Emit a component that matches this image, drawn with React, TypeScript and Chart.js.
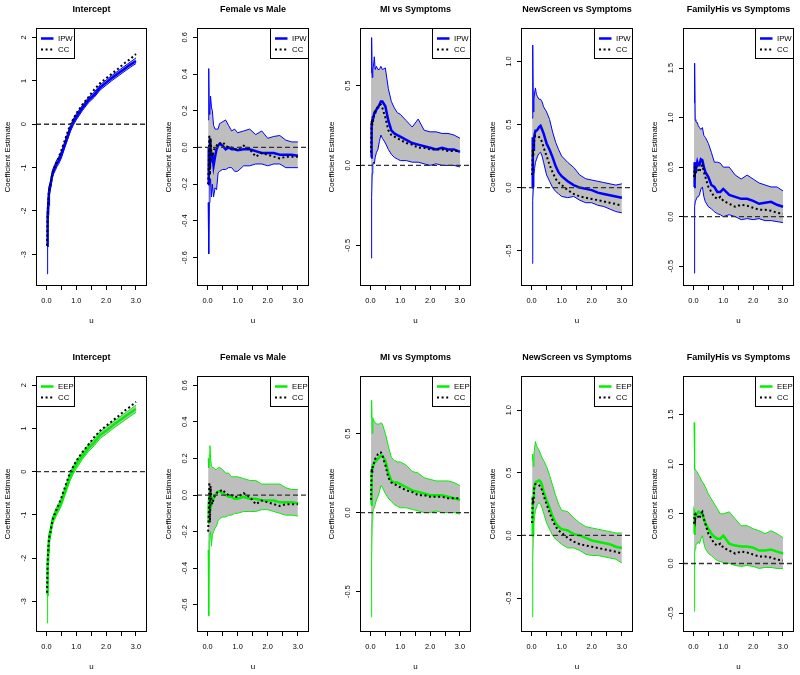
import React, { useEffect, useRef } from "react";
import { Chart, registerables } from "chart.js";
Chart.register(...registerables);

// ---------- data ----------
const U = [0.02, 0.04, 0.06, 0.08, 0.1, 0.13, 0.16, 0.2, 0.25, 0.3, 0.35, 0.4, 0.5, 0.6, 0.7, 0.8, 0.9, 1.0, 1.2, 1.4, 1.6, 1.8, 2.0, 2.2, 2.4, 2.6, 2.8, 3.0];

const TITLES = ["Intercept", "Female vs Male", "MI vs Symptoms", "NewScreen vs Symptoms", "FamilyHis vs Symptoms"];
const METHODS = ["IPW", "EEP"];

// Complete case (same in both rows)
const CC_INT = [-2.8, -2.1, -1.8, -1.6, -1.5, -1.4, -1.28, -1.12, -1.02, -0.95, -0.85, -0.78, -0.6, -0.4, -0.2, 0.0, 0.12, 0.25, 0.45, 0.62, 0.8, 0.95, 1.06, 1.17, 1.28, 1.4, 1.5, 1.62];
const CC_FEM = [-0.2, -0.1, 0.07, -0.15, 0.05, -0.03, -0.05, -0.02, 0.0, 0.01, 0.02, 0.02, 0.03, 0.01, 0.0, 0.0, -0.01, -0.01, 0.01, -0.01, -0.05, -0.03, -0.04, -0.05, -0.06, -0.05, -0.05, -0.05];
const CC_MI = [0.08, 0.28, 0.25, 0.3, 0.3, 0.32, 0.34, 0.35, 0.37, 0.38, 0.38, 0.36, 0.3, 0.22, 0.19, 0.18, 0.17, 0.16, 0.14, 0.13, 0.11, 0.11, 0.1, 0.1, 0.1, 0.09, 0.09, 0.09];
const CC_NS = [0.1, 0.3, 0.25, 0.35, 0.4, 0.41, 0.41, 0.41, 0.4, 0.39, 0.36, 0.32, 0.25, 0.18, 0.12, 0.07, 0.04, 0.02, -0.02, -0.05, -0.07, -0.08, -0.09, -0.1, -0.11, -0.12, -0.13, -0.145];
const CC_FH = [0.4, 0.5, 0.45, 0.5, 0.5, 0.48, 0.47, 0.45, 0.5, 0.52, 0.45, 0.4, 0.3, 0.25, 0.2, 0.18, 0.2, 0.16, 0.13, 0.1, 0.12, 0.11, 0.09, 0.07, 0.07, 0.06, 0.04, 0.03];

// IPW row
const IPW_INT_EST = [-2.8, -2.1, -1.85, -1.6, -1.5, -1.42, -1.3, -1.15, -1.05, -0.98, -0.9, -0.85, -0.7, -0.5, -0.3, -0.1, 0.05, 0.17, 0.37, 0.55, 0.68, 0.85, 0.96, 1.07, 1.17, 1.27, 1.37, 1.46];
const IPW_INT_HI = [-2.3, -1.8, -1.65, -1.45, -1.4, -1.33, -1.22, -1.07, -0.97, -0.9, -0.82, -0.77, -0.62, -0.43, -0.23, -0.03, 0.12, 0.24, 0.43, 0.61, 0.74, 0.91, 1.02, 1.13, 1.23, 1.33, 1.43, 1.53];
const IPW_INT_LO = [-3.45, -2.45, -2.1, -1.8, -1.65, -1.52, -1.4, -1.23, -1.13, -1.06, -0.98, -0.93, -0.78, -0.57, -0.37, -0.17, -0.02, 0.1, 0.31, 0.49, 0.62, 0.79, 0.9, 1.01, 1.11, 1.21, 1.31, 1.4];

const IPW_FEM_EST = [-0.2, 0.0, -0.1, 0.05, 0.0, -0.08, -0.03, -0.1, -0.05, -0.01, 0.01, 0.02, 0.01, -0.01, 0.0, -0.01, -0.01, -0.015, -0.01, -0.01, -0.02, -0.03, -0.03, -0.03, -0.04, -0.04, -0.04, -0.045];
const IPW_FEM_HI = [0.15, 0.43, 0.18, 0.2, 0.28, 0.22, 0.2, 0.12, 0.1, 0.1, 0.1, 0.13, 0.14, 0.15, 0.12, 0.09, 0.1, 0.08, 0.09, 0.1, 0.07, 0.09, 0.05, 0.06, 0.065, 0.04, 0.03, 0.03];
const IPW_FEM_LO = [-0.3, -0.58, -0.3, -0.2, -0.17, -0.27, -0.2, -0.27, -0.22, -0.23, -0.14, -0.13, -0.12, -0.12, -0.11, -0.11, -0.13, -0.13, -0.1, -0.1, -0.09, -0.09, -0.1, -0.09, -0.09, -0.11, -0.11, -0.11];

const IPW_MI_EST = [0.05, 0.25, 0.28, 0.3, 0.3, 0.33, 0.33, 0.35, 0.36, 0.38, 0.4, 0.4, 0.37, 0.28, 0.22, 0.2, 0.19, 0.18, 0.16, 0.14, 0.13, 0.12, 0.11, 0.1, 0.11, 0.1, 0.1, 0.085];
const IPW_MI_HI = [0.58, 0.8, 0.55, 0.6, 0.62, 0.68, 0.6, 0.62, 0.6, 0.6, 0.62, 0.6, 0.61, 0.48, 0.4, 0.36, 0.33, 0.32, 0.28, 0.24, 0.29, 0.22, 0.21, 0.21, 0.2, 0.2, 0.19, 0.17];
const IPW_MI_LO = [-0.58, -0.2, -0.05, 0.0, 0.02, 0.01, 0.05, 0.08, 0.1, 0.15, 0.19, 0.17, 0.14, 0.1, 0.07, 0.05, 0.04, 0.03, 0.03, 0.02, 0.02, 0.01, 0.0, 0.01, 0.0, 0.0, 0.0, -0.01];

const IPW_NS_EST = [0.0, 0.4, 0.3, 0.38, 0.42, 0.45, 0.45, 0.46, 0.48, 0.49, 0.46, 0.43, 0.35, 0.3, 0.24, 0.17, 0.12, 0.09, 0.05, 0.02, 0.0, -0.01, -0.02, -0.04, -0.05, -0.06, -0.07, -0.08];
const IPW_NS_HI = [0.55, 1.13, 0.6, 0.7, 0.75, 0.79, 0.74, 0.72, 0.7, 0.7, 0.68, 0.64, 0.6, 0.54, 0.44, 0.36, 0.3, 0.25, 0.2, 0.16, 0.1, 0.07, 0.06, 0.05, 0.04, 0.03, 0.02, 0.03];
const IPW_NS_LO = [-0.6, -0.1, 0.0, 0.1, 0.15, 0.2, 0.22, 0.25, 0.27, 0.28, 0.25, 0.2, 0.1, 0.05, 0.0, -0.03, -0.05, -0.07, -0.08, -0.07, -0.1, -0.12, -0.12, -0.14, -0.15, -0.17, -0.19, -0.2];

const IPW_FH_EST = [0.3, 0.55, 0.45, 0.5, 0.5, 0.55, 0.52, 0.52, 0.58, 0.57, 0.5, 0.45, 0.4, 0.32, 0.3, 0.25, 0.25, 0.28, 0.22, 0.2, 0.18, 0.18, 0.16, 0.13, 0.14, 0.15, 0.12, 0.1];
const IPW_FH_HI = [1.15, 1.55, 0.98, 0.97, 0.95, 0.95, 0.92, 0.9, 0.88, 0.9, 0.82, 0.8, 0.74, 0.65, 0.55, 0.55, 0.54, 0.5, 0.5, 0.42, 0.38, 0.42, 0.38, 0.34, 0.32, 0.3, 0.3, 0.26];
const IPW_FH_LO = [-0.57, 0.1, 0.15, 0.15, 0.18, 0.2, 0.2, 0.22, 0.28, 0.3, 0.2, 0.15, 0.1, 0.08, 0.05, 0.03, 0.02, 0.0, 0.02, 0.0, -0.03, -0.02, -0.03, -0.02, -0.04, -0.04, -0.05, -0.06];

// EEP row
const EEP_INT_EST = [-2.85, -2.15, -1.85, -1.6, -1.5, -1.42, -1.3, -1.15, -1.05, -0.98, -0.9, -0.84, -0.7, -0.5, -0.3, -0.1, 0.04, 0.16, 0.36, 0.54, 0.68, 0.85, 0.95, 1.06, 1.16, 1.26, 1.36, 1.45];
const EEP_INT_HI = [-2.4, -1.85, -1.65, -1.45, -1.38, -1.32, -1.21, -1.06, -0.96, -0.89, -0.81, -0.75, -0.61, -0.41, -0.21, -0.01, 0.13, 0.25, 0.44, 0.62, 0.76, 0.93, 1.03, 1.14, 1.24, 1.34, 1.44, 1.54];
const EEP_INT_LO = [-3.5, -2.5, -2.1, -1.8, -1.65, -1.53, -1.4, -1.24, -1.14, -1.07, -0.99, -0.93, -0.79, -0.59, -0.39, -0.19, -0.05, 0.07, 0.28, 0.46, 0.6, 0.77, 0.87, 0.98, 1.08, 1.18, 1.28, 1.37];

const EEP_FEM_EST = [-0.15, -0.05, 0.0, -0.08, 0.02, -0.05, -0.03, -0.02, 0.0, 0.01, 0.02, 0.02, 0.01, 0.0, -0.01, -0.01, -0.02, -0.02, -0.01, -0.02, -0.02, -0.03, -0.03, -0.03, -0.04, -0.04, -0.04, -0.045];
const EEP_FEM_HI = [0.2, 0.15, 0.22, 0.27, 0.2, 0.16, 0.15, 0.15, 0.14, 0.14, 0.15, 0.15, 0.14, 0.12, 0.12, 0.1, 0.1, 0.1, 0.09, 0.08, 0.08, 0.06, 0.06, 0.06, 0.06, 0.04, 0.03, 0.03];
const EEP_FEM_LO = [-0.3, -0.66, -0.25, -0.22, -0.2, -0.28, -0.22, -0.2, -0.18, -0.17, -0.14, -0.13, -0.12, -0.12, -0.11, -0.11, -0.1, -0.1, -0.09, -0.09, -0.09, -0.08, -0.08, -0.09, -0.1, -0.11, -0.11, -0.115];

const EEP_MI_EST = [0.05, 0.25, 0.28, 0.3, 0.3, 0.32, 0.32, 0.33, 0.34, 0.35, 0.36, 0.36, 0.33, 0.25, 0.2, 0.19, 0.19, 0.18, 0.16, 0.14, 0.13, 0.12, 0.11, 0.11, 0.11, 0.1, 0.09, 0.08];
const EEP_MI_HI = [0.6, 0.71, 0.5, 0.6, 0.58, 0.58, 0.57, 0.56, 0.56, 0.56, 0.57, 0.56, 0.5, 0.42, 0.35, 0.33, 0.32, 0.32, 0.3, 0.26, 0.25, 0.22, 0.21, 0.2, 0.2, 0.2, 0.19, 0.17];
const EEP_MI_LO = [-0.66, -0.3, -0.05, 0.0, 0.02, 0.03, 0.05, 0.08, 0.1, 0.13, 0.17, 0.16, 0.12, 0.09, 0.07, 0.05, 0.04, 0.03, 0.03, 0.02, 0.01, 0.0, 0.0, 0.01, 0.0, 0.0, 0.0, -0.01];

const EEP_NS_EST = [0.0, 0.3, 0.3, 0.38, 0.4, 0.42, 0.43, 0.43, 0.44, 0.43, 0.4, 0.35, 0.28, 0.22, 0.15, 0.1, 0.07, 0.05, 0.04, 0.01, 0.0, -0.02, -0.04, -0.05, -0.06, -0.07, -0.09, -0.1];
const EEP_NS_HI = [0.6, 0.65, 0.55, 0.65, 0.7, 0.75, 0.72, 0.7, 0.68, 0.65, 0.62, 0.6, 0.55, 0.48, 0.4, 0.32, 0.25, 0.2, 0.19, 0.14, 0.1, 0.07, 0.06, 0.05, 0.04, 0.03, 0.02, 0.02];
const EEP_NS_LO = [-0.65, -0.2, 0.0, 0.1, 0.15, 0.2, 0.22, 0.25, 0.26, 0.25, 0.22, 0.18, 0.1, 0.05, 0.0, -0.03, -0.05, -0.07, -0.1, -0.1, -0.12, -0.15, -0.16, -0.16, -0.17, -0.18, -0.19, -0.22];

const EEP_FH_EST = [0.3, 0.5, 0.48, 0.5, 0.5, 0.5, 0.52, 0.52, 0.5, 0.5, 0.45, 0.4, 0.35, 0.3, 0.27, 0.25, 0.25, 0.28, 0.2, 0.18, 0.17, 0.17, 0.16, 0.13, 0.13, 0.14, 0.12, 0.1];
const EEP_FH_HI = [1.42, 0.95, 0.95, 0.95, 0.93, 0.92, 0.9, 0.88, 0.85, 0.82, 0.8, 0.77, 0.7, 0.65, 0.6, 0.55, 0.5, 0.5, 0.52, 0.45, 0.38, 0.38, 0.35, 0.33, 0.3, 0.33, 0.3, 0.26];
const EEP_FH_LO = [-0.48, 0.1, 0.15, 0.18, 0.2, 0.2, 0.22, 0.2, 0.25, 0.28, 0.2, 0.15, 0.1, 0.08, 0.05, 0.03, 0.02, 0.01, 0.0, -0.02, -0.03, -0.02, -0.03, -0.05, -0.04, -0.04, -0.05, -0.05];

// axes
const X_MIN = -0.35;
const X_MAX = 3.37;
const X_TICKS = [0, 0.5, 1, 1.5, 2, 2.5, 3];
const X_TICK_LABELS = ["0.0", "", "1.0", "", "2.0", "", "3.0"];

const Y_TICKS = [
  [-3, -2, -1, 0, 1, 2],
  [-0.6, -0.4, -0.2, 0, 0.2, 0.4, 0.6],
  [-0.5, 0, 0.5],
  [-0.5, 0, 0.5, 1.0],
  [-0.5, 0, 0.5, 1.0, 1.5],
];
const Y_TICK_LABELS = [
  ["-3", "-2", "-1", "0", "1", "2"],
  ["-0.6", "-0.4", "-0.2", "0.0", "0.2", "0.4", "0.6"],
  ["-0.5", "0.0", "0.5"],
  ["-0.5", "0.0", "0.5", "1.0"],
  ["-0.5", "0.0", "0.5", "1.0", "1.5"],
];
const Y_RANGE_IPW = [[-3.73, 2.22], [-0.755, 0.651], [-0.755, 0.86], [-0.78, 1.265], [-0.70, 1.905]];
const Y_RANGE_EEP = [[-3.71, 2.215], [-0.749, 0.651], [-0.756, 0.864], [-0.771, 1.273], [-0.69, 1.888]];

const ROWS = [
  { est: [IPW_INT_EST, IPW_FEM_EST, IPW_MI_EST, IPW_NS_EST, IPW_FH_EST], hi: [IPW_INT_HI, IPW_FEM_HI, IPW_MI_HI, IPW_NS_HI, IPW_FH_HI], lo: [IPW_INT_LO, IPW_FEM_LO, IPW_MI_LO, IPW_NS_LO, IPW_FH_LO], range: Y_RANGE_IPW },
  { est: [EEP_INT_EST, EEP_FEM_EST, EEP_MI_EST, EEP_NS_EST, EEP_FH_EST], hi: [EEP_INT_HI, EEP_FEM_HI, EEP_MI_HI, EEP_NS_HI, EEP_FH_HI], lo: [EEP_INT_LO, EEP_FEM_LO, EEP_MI_LO, EEP_NS_LO, EEP_FH_LO], range: Y_RANGE_EEP },
];
const CC_SERIES = [CC_INT, CC_FEM, CC_MI, CC_NS, CC_FH];

// ---------- layout / style ----------
const FONT = "'Liberation Sans', Arial, Helvetica, sans-serif";
const ROW_COLORS = ["#0000FF", "#00F000"];
const BAND_FILL = "#BEBEBE";
const CELL_W = 160;
const CELL_Y = [0, 330];
const CELL_H = [330, 345];
const PLOT_LEFT = [36, 197, 360, 521, 683];
const PLOT_RIGHT = [147, 309, 471, 633, 794];
const PLOT_TOP = [28, 376];
const PLOT_BOTTOM = [286, 632];

function pts(ys: number[]) {
  return U.map((x, i) => ({ x, y: ys[i] }));
}

function makeDecor(row: number, col: number) {
  const color = ROW_COLORS[row];
  const method = METHODS[row];
  return {
    id: "rdecor",
    afterDraw(chart: any) {
      const { ctx, chartArea: a, scales } = chart;
      const ys = scales.y;
      ctx.save();
      // box
      ctx.strokeStyle = "#000";
      ctx.lineWidth = 1;
      ctx.strokeRect(Math.round(a.left) + 0.5, Math.round(a.top) + 0.5, Math.round(a.right - a.left) - 1, Math.round(a.bottom - a.top) - 1);
      ctx.fillStyle = "#000";
      // title
      ctx.font = `bold 9px ${FONT}`;
      ctx.textAlign = "center";
      ctx.textBaseline = "middle";
      ctx.fillText(TITLES[col], (a.left + a.right) / 2, a.top - 18.5);
      // x label
      ctx.font = `8px ${FONT}`;
      ctx.fillText("u", (a.left + a.right) / 2, a.bottom + 35);
      // y tick labels (rotated, R style)
      ctx.font = `7.4px ${FONT}`;
      Y_TICKS[col].forEach((v, i) => {
        const py = ys.getPixelForValue(v);
        ctx.save();
        ctx.translate(a.left - 12.3, py);
        ctx.rotate(-Math.PI / 2);
        ctx.fillText(Y_TICK_LABELS[col][i], 0, 0);
        ctx.restore();
      });
      // y title
      ctx.font = `8px ${FONT}`;
      ctx.save();
      ctx.translate(a.left - 28.5, (a.top + a.bottom) / 2);
      ctx.rotate(-Math.PI / 2);
      ctx.fillText("Coefficient Estimate", 0, 0);
      ctx.restore();
      // legend
      const bw = 38, bh = 30;
      const bx = col === 0 ? Math.round(a.left) + 0.5 : Math.round(a.right) - bw - 0.5;
      const by = Math.round(a.top) + 0.5;
      ctx.fillStyle = "#fff";
      ctx.fillRect(bx, by, bw, bh);
      ctx.strokeStyle = "#000";
      ctx.lineWidth = 1;
      ctx.strokeRect(bx, by, bw, bh);
      const r1 = by + 10, r2 = by + 21;
      ctx.beginPath();
      ctx.strokeStyle = color;
      ctx.lineWidth = 2.5;
      ctx.moveTo(bx + 4.5, r1);
      ctx.lineTo(bx + 17, r1);
      ctx.stroke();
      ctx.beginPath();
      ctx.strokeStyle = "#000";
      ctx.lineWidth = 2;
      ctx.setLineDash([2, 2.6]);
      ctx.moveTo(bx + 4.5, r2);
      ctx.lineTo(bx + 17, r2);
      ctx.stroke();
      ctx.setLineDash([]);
      ctx.fillStyle = "#000";
      ctx.font = `7.8px ${FONT}`;
      ctx.textAlign = "left";
      ctx.fillText(method, bx + 21.5, r1 + 0.5);
      ctx.fillText("CC", bx + 21.5, r2 + 0.5);
      ctx.restore();
    },
  };
}

function makeConfig(row: number, col: number): any {
  const R = ROWS[row];
  const color = ROW_COLORS[row];
  const [yMin, yMax] = R.range[col];
  const leftW = PLOT_LEFT[col] - col * CELL_W;
  const rightPad = CELL_W - (PLOT_RIGHT[col] - col * CELL_W);
  const topPad = PLOT_TOP[row] - CELL_Y[row];
  const bottomH = CELL_Y[row] + CELL_H[row] - PLOT_BOTTOM[row];
  return {
    type: "line",
    data: {
      datasets: [
        { data: pts(R.hi[col]), borderColor: color, borderWidth: 1, backgroundColor: BAND_FILL, fill: "+1", pointRadius: 0, order: 4, tension: 0 },
        { data: pts(R.lo[col]), borderColor: color, borderWidth: 1, fill: false, pointRadius: 0, order: 3, tension: 0 },
        { data: pts(R.est[col]), borderColor: color, borderWidth: 2.5, fill: false, pointRadius: 0, order: 2, tension: 0 },
        { data: pts(CC_SERIES[col]), borderColor: "#000", borderWidth: 2, borderDash: [2, 2.6], fill: false, pointRadius: 0, order: 1, tension: 0 },
        { data: [{ x: X_MIN, y: 0 }, { x: X_MAX, y: 0 }], borderColor: "#333", borderWidth: 1.3, borderDash: [5, 3], fill: false, pointRadius: 0, order: 0 },
      ],
    },
    options: {
      animation: false,
      responsive: false,
      events: [],
      layout: { padding: { top: topPad, right: rightPad, left: 0, bottom: 0 } },
      plugins: {
        legend: { display: false },
        tooltip: { enabled: false },
        title: { display: false },
        filler: { drawTime: "beforeDatasetsDraw" },
      },
      scales: {
        x: {
          type: "linear",
          min: X_MIN,
          max: X_MAX,
          afterBuildTicks: (s: any) => { s.ticks = X_TICKS.map((v) => ({ value: v })); },
          afterFit: (s: any) => { s.height = bottomH; },
          ticks: {
            autoSkip: false,
            maxRotation: 0,
            minRotation: 0,
            padding: 7,
            color: "#000",
            font: { family: FONT, size: 7.4 },
            callback: (_v: any, i: number) => X_TICK_LABELS[i],
          },
          grid: { display: true, drawOnChartArea: false, drawTicks: true, tickLength: 4, color: "#000", lineWidth: 1 },
          border: { display: false },
        },
        y: {
          type: "linear",
          min: yMin,
          max: yMax,
          afterBuildTicks: (s: any) => { s.ticks = Y_TICKS[col].map((v) => ({ value: v })); },
          afterFit: (s: any) => { s.width = leftW; },
          ticks: { display: false },
          grid: { display: true, drawOnChartArea: false, drawTicks: true, tickLength: 4, color: "#000", lineWidth: 1 },
          border: { display: false },
        },
      },
    },
    plugins: [makeDecor(row, col)],
  };
}

const CELLS: { row: number; col: number }[] = [];
for (let r = 0; r < 2; r++) for (let c = 0; c < 5; c++) CELLS.push({ row: r, col: c });

export default function App() {
  const refs = useRef<(HTMLCanvasElement | null)[]>([]);
  useEffect(() => {
    const charts = CELLS.map((cell, i) => {
      const cv = refs.current[i];
      return cv ? new Chart(cv, makeConfig(cell.row, cell.col)) : null;
    });
    return () => charts.forEach((c) => c && c.destroy());
  }, []);
  return (
    <div style={{ position: "absolute", left: 0, top: 0, width: 800, height: 675, background: "#fff" }}>
      {CELLS.map((cell, i) => (
        <canvas
          key={i}
          ref={(el) => { refs.current[i] = el; }}
          width={CELL_W}
          height={CELL_H[cell.row]}
          style={{ position: "absolute", left: cell.col * CELL_W, top: CELL_Y[cell.row], width: CELL_W, height: CELL_H[cell.row] }}
        />
      ))}
    </div>
  );
}
